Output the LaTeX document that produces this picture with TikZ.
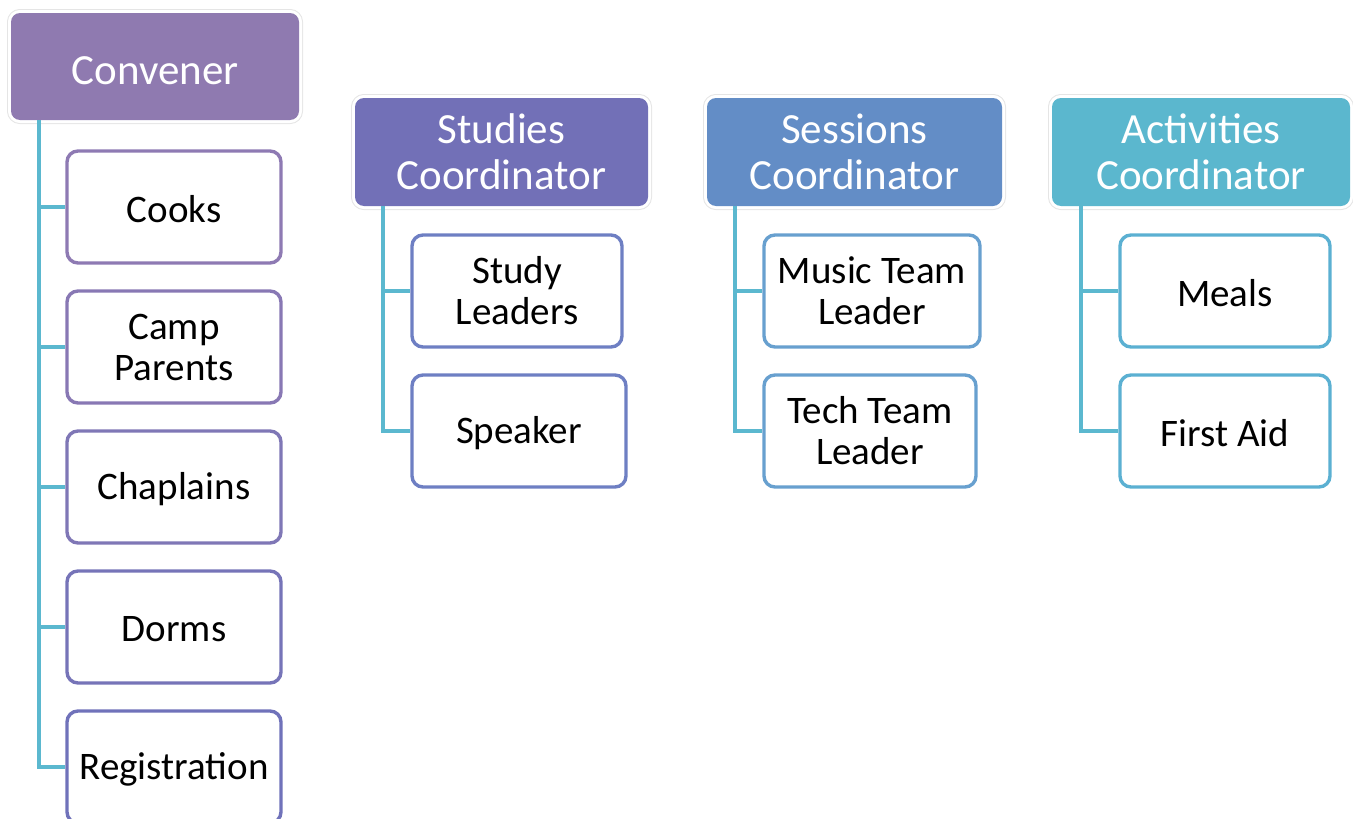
\documentclass[tikz,border=0pt]{standalone}
\usepackage{fontspec}
\setmainfont{Carlito}
\definecolor{convC}{HTML}{8F7AB0}
\definecolor{studC}{HTML}{7270B7}
\definecolor{sessC}{HTML}{638DC6}
\definecolor{actC}{HTML}{5BB7CE}
\definecolor{lineC}{HTML}{5BB8CF}
\definecolor{bA}{HTML}{8E7AB3}
\definecolor{bB}{HTML}{8878B4}
\definecolor{bC}{HTML}{7F77B6}
\definecolor{bD}{HTML}{7674B8}
\definecolor{bE}{HTML}{7072BA}
\definecolor{bS}{HTML}{6E7FC3}
\definecolor{bT}{HTML}{68A0CF}
\definecolor{bU}{HTML}{5BB0D2}
\newcommand{\lowr}[2]{\raisebox{-#1}[\height][\depth]{#2}}
\tikzset{
  hdr/.style={rounded corners=9pt, fill=#1, text=white, inner sep=0pt, align=center,
    font=\fontsize{43}{46}\selectfont,
    preaction={draw=black!10, line width=8pt},
    preaction={draw=white, line width=6pt}},
  kid/.style={rounded corners=11pt, draw=#1, line width=3.4pt, fill=white, inner sep=0pt,
    align=center, font=\fontsize{39}{41}\selectfont},
  conn/.style={draw=lineC, line width=3.6pt}
}
\begin{document}
\begin{tikzpicture}[x=1pt,y=-1pt]
\useasboundingbox (0,0) rectangle (1353,819);
% headers
\node[hdr=convC, minimum width=288pt, minimum height=107pt] (conv) at (155,66.5) {\lowr{4pt}{Convener}};
\node[hdr=studC, minimum width=293pt, minimum height=108pt] (stud) at (501.5,152) {Studies\\Coordinator};
\node[hdr=sessC, minimum width=295pt, minimum height=108pt] (sess) at (854.5,152) {Sessions\\Coordinator};
\node[hdr=actC, minimum width=298pt, minimum height=108pt] (act) at (1201,152) {Activities\\Coordinator};
% convener children
\node[kid=bA, minimum width=214pt, minimum height=112pt] (cooks) at (174,207) {\lowr{2pt}{Cooks}};
\node[kid=bB, minimum width=214pt, minimum height=112pt] (camp) at (174,347) {Camp\\Parents};
\node[kid=bC, minimum width=214pt, minimum height=112pt] (chap) at (174,487) {\lowr{2pt}{Chaplains}};
\node[kid=bD, minimum width=214pt, minimum height=112pt] (dorms) at (174,627) {\lowr{2pt}{Dorms}};
\node[kid=bE, minimum width=214pt, minimum height=112pt] (reg) at (174,767) {\lowr{2pt}{Registration}};
% studies children
\node[kid=bS, minimum width=210pt, minimum height=112pt] (sl) at (517,291) {Study\\Leaders};
\node[kid=bS, minimum width=214pt, minimum height=112pt] (spk) at (519,431) {\lowr{2pt}{Speaker}};
% sessions children
\node[kid=bT, minimum width=216pt, minimum height=112pt] (mus) at (872,291) {Music Team\\Leader};
\node[kid=bT, minimum width=212pt, minimum height=112pt] (tech) at (870,431) {Tech Team\\Leader};
% activities children
\node[kid=bU, minimum width=210pt, minimum height=112pt] (meals) at (1225,291) {\lowr{2pt}{Meals}};
\node[kid=bU, minimum width=210pt, minimum height=112pt] (fa) at (1225,431) {\lowr{2pt}{First Aid}};
% connectors
\draw[conn] ([xshift=28pt]conv.south west) |- (cooks.west);
\draw[conn] ([xshift=28pt]conv.south west) |- (camp.west);
\draw[conn] ([xshift=28pt]conv.south west) |- (chap.west);
\draw[conn] ([xshift=28pt]conv.south west) |- (dorms.west);
\draw[conn] ([xshift=28pt]conv.south west) |- (reg.west);
\draw[conn] ([xshift=28pt]stud.south west) |- (sl.west);
\draw[conn] ([xshift=28pt]stud.south west) |- (spk.west);
\draw[conn] ([xshift=28pt]sess.south west) |- (mus.west);
\draw[conn] ([xshift=28pt]sess.south west) |- (tech.west);
\draw[conn] ([xshift=29pt]act.south west) |- (meals.west);
\draw[conn] ([xshift=29pt]act.south west) |- (fa.west);
\end{tikzpicture}
\end{document}
